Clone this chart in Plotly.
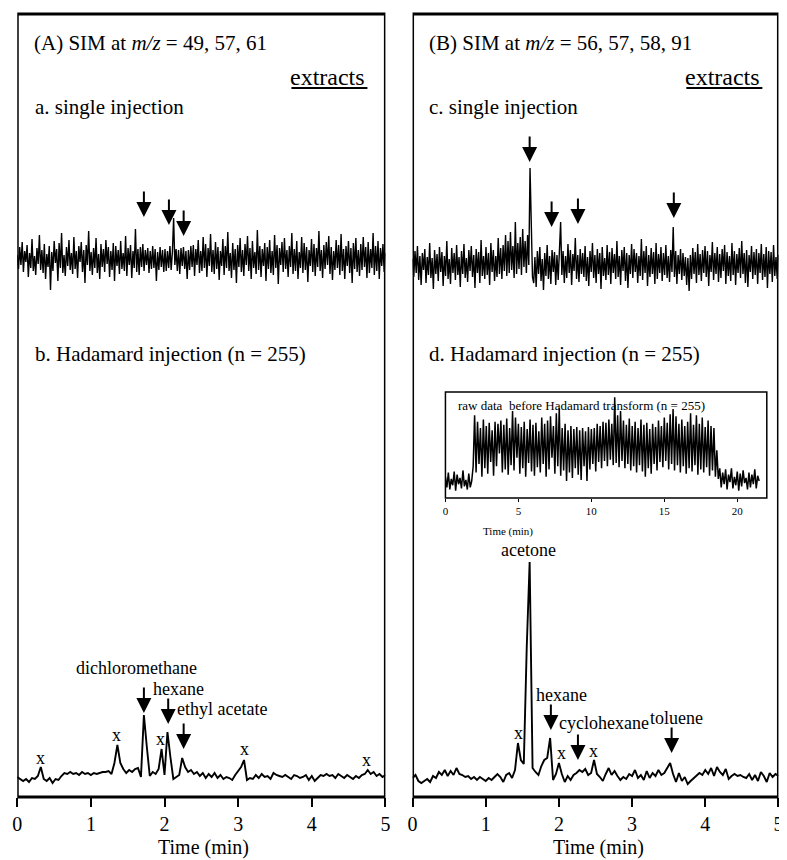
import numpy as np
import plotly.graph_objects as go

# ---------------- data ----------------
panel_titles = ["(A) SIM at <i>m/z</i> = 49, 57, 61", "(B) SIM at <i>m/z</i> = 56, 57, 58, 91"]
single_labels = ["a. single injection", "c. single injection"]
hadamard_labels = ["b. Hadamard injection (n = 255)", "d. Hadamard injection (n = 255)"]
x_ticks = [0, 1, 2, 3, 4, 5]
inset_ticks = [0, 5, 10, 15, 20]
inset_title = "raw data  before Hadamard transform (n = 255)"

single_dt = 5 / 299  # min per sample
single_a = [
    4, -10, 12, -6, 17, -13, 8, -3, 14, -18, 6, -9, 20, -12, 3, -16, 11, -5, 24, -11,
    9, -14, 15, -20, 5, -8, 13, -31, 7, -12, 18, -4, 10, -22, 16, -9, 26, -14, 4, -17,
    12, -7, 19, -11, 6, -15, 22, -10, 8, -19, 13, -3, 17, -13, 9, -24, 14, -6, 28, -12,
    7, -16, 11, -9, 21, -14, 5, -20, 15, -8, 10, -13, 19, -5, 12, -18, 8, -11, 16, -22,
    13, -7, 9, -15, 18, -10, 6, -12, 23, -17, 11, -6, 14, -19, 8, -9, 30, -13, 10, -16,
    12, -8, 15, -12, 9, -6, 11, -14, 8, -10, 13, -9, 10, -22, 7, -11, 12, -8, 9, -13,
    10, -12, 8, -9, 13, -11, 7, 41, -6, 10, -12, 9, -15, 11, -7, 12, -10, 8, -20, 9,
    -11, 13, -8, 14, -17, 10, -6, 19, -14, 8, -12, 22, -9, 15, -18, 11, -7, 25, -13, 9,
    -15, 17, -10, 12, -21, 8, -7, 20, -16, 13, -9, 27, -12, 6, -19, 16, -11, 10, -24, 14,
    -8, 21, -13, 9, -17, 15, -6, 23, -12, 11, -20, 18, -9, 7, -15, 29, -11, 13, -18, 10,
    -7, 16, -22, 12, -10, 19, -14, 8, -16, 24, -9, 14, -25, 11, -6, 17, -13, 21, -10, 9,
    -18, 13, -8, 26, -15, 10, -12, 18, -20, 7, -9, 22, -14, 16, -11, 12, -23, 9, -7, 20,
    -13, 15, -17, 11, -8, 28, -12, 9, -19, 14, -10, 17, -6, 23, -15, 12, -21, 8, -11, 19,
    -9, 14, -16, 25, -12, 10, -20, 13, -7, 18, -14, 11, -24, 16, -10, 21, -13, 9, -17, 15,
    -11, 22, -8, 12, -19, 17, -14, 10, -9, 26, -16, 13, -12, 18, -20, 11, -7, 15, -13, 6,
]
single_b = [
    6, -12, 14, -8, 19, -15, 9, -20, 12, -5, 16, -18, 8, -10, 22, -13, 7, -24, 15, -9,
    11, -16, 18, -7, 13, -21, 9, -11, 24, -14, 6, -19, 17, -8, 12, -15, 20, -10, 8, -22,
    14, -9, 21, -13, 7, -17, 15, -6, 19, -12, 10, -23, 16, -8, 13, -18, 25, -11, 9, -14,
    18, -10, 12, -20, 22, -7, 15, -16, 9, -12, 27, -9, 17, -14, 20, -6, 30, -11, 24, -8,
    33, -5, 19, -13, 43, -9, 22, -4, 28, -10, 36, -2, 24, -8, 30, 0, 97, 20, -12, -18,
    8, -22, 14, -9, 18, -16, 6, -25, 12, -11, 20, -14, 9, -19, 15, -7, 13, -20, 10, -15,
    17, 43, -10, 14, -18, 9, -13, 21, -8, 15, -20, 11, -6, 27, -14, 10, -17, 16, -9, 12,
    -12, 19, -16, 8, -21, 14, -7, 22, -13, 10, -18, 16, -9, 12, -24, 18, -11, 7, -15, 20,
    -10, 13, -19, 17, -8, 11, -14, 24, -12, 9, -20, 15, -6, 18, -16, 12, -23, 10, -9, 21,
    -13, 16, -7, 12, -18, 9, -11, 26, -15, 14, -8, 19, -21, 10, -12, 17, -9, 13, -19, 22,
    -14, 11, -8, 18, -16, 12, -10, 20, -13, 9, -17, 15, -7, 38, -12, 14, -19, 10, -9, 16,
    -15, 12, -11, 8, -20, 7, -26, 10, -14, 17, -9, 13, -18, 21, -10, 11, -16, 15, -8, 19,
    -12, 14, -21, 10, -7, 23, -15, 12, -9, 18, -17, 11, -13, 16, -6, 20, -19, 13, -11, 9,
    -16, 22, -10, 14, -20, 11, -8, 17, -13, 24, -9, 12, -18, 15, -22, 10, -7, 19, -14, 13,
    -10, 16, -19, 12, -8, 21, -15, 11, -12, 18, -23, 14, -9, 13, -17, 20, -11, 8, -14, 10,
]

hadamard_dt = 0.04  # min per sample
hadamard_a = [
    0, -2, -4, -2, -5, -1, -2, 1, 10, -2, -4, -1, -6, -2, -3, 1, 4, 3, 5, 3,
    4, 2, 5, 3, 4, 2, 4, 3, 4, 5, 5, 6, 3, 14, 32, 14, 8, 4, 7, 5,
    8, 9, 0, 62, 30, 1, 5, 3, 8, 28, 2, 45, 20, -2, 0, 2, 19, 10, 5, 7,
    3, 5, 1, 4, -1, 3, 0, 4, -1, 2, -2, 0, -1, -3, 2, 6, 10, 17, -3, -1,
    -2, 2, -1, 3, 0, 1, -2, 4, 2, 1, 0, 2, 0, -2, 2, 1, -1, 0, 2, -3,
    1, -4, -1, 2, 1, 3, 1, 2, -1, 3, 1, -1, 2, 0, -2, 1, -1, 2, 3, 7,
    3, 5, 1, 3, 0, 2,
]
hadamard_b = [
    0, 3, -3, -5, -3, -1, -4, 2, 0, 6, 3, 8, 2, 7, 3, 10, 4, 3, 1, 2,
    -1, 1, -2, 1, -1, -3, 0, -2, 1, 4, 1, -4, 3, 5, 0, 8, 35, 18, 14, 130,
    216, 10, 6, 3, 12, 18, 20, 40, -2, 4, 15, 4, -4, 2, -2, 3, 5, 8, 6, 9,
    3, 5, 18, 4, 1, -3, 4, 10, 3, 7, 2, -2, 1, -1, 4, 2, 8, 0, 3, -2,
    7, 0, 5, 2, 8, 3, 5, 10, 15, 4, -4, 5, -3, 1, -6, -3, 0, 2, 5, 3,
    8, 4, 10, 2, 11, 6, 3, 9, -1, 2, 4, 2, 3, 1, 0, 4, -2, 3, -3, 6,
    2, -4, 5, 1, 4, 2,
]

raw_dt = 0.1  # min per sample (inset)
raw_data = [
    20, 10, 24, 8, 18, 12, 25, 7, 22, 13, 19, 9, 26, 11, 17, 8, 23, 10, 16,
    30, 78, 24, 72, 32, 66, 20, 74, 28, 68, 23, 71, 34, 64, 21, 72, 30, 70, 42, 73,
    24, 69, 27, 75, 22, 66, 31, 82, 26, 76, 38, 70, 23, 67, 28, 72, 20, 65, 33, 74,
    25, 69, 21, 71, 29, 63, 24, 76, 32, 70, 20, 73, 27, 77, 38, 68, 23, 80, 30, 85,
    21, 66, 26, 70, 16, 64, 24, 68, 19, 65, 28, 67, 22, 64, 17, 66, 30, 63, 16, 67,
    27, 65, 32, 66, 25, 70, 34, 68, 28, 72, 35, 71, 30, 74, 36, 70, 31, 95, 33, 78,
    29, 82, 35, 73, 28, 69, 32, 75, 26, 68, 30, 72, 24, 66, 31, 74, 25, 69, 20, 71,
    28, 65, 23, 70, 32, 67, 26, 73, 34, 68, 29, 76, 35, 71, 27, 79, 32, 84, 26, 77,
    31, 70, 24, 74, 30, 68, 23, 72, 28, 80, 25, 69, 31, 78, 22, 70, 27, 76, 24, 67,
    29, 73, 21, 68, 26, 66, 20,
    45, 18, 28, 10, 24, 13, 27, 8, 22, 15, 28, 9, 20, 12, 25, 7, 23, 11, 26, 14,
    19, 8, 24, 10, 22, 13, 27, 9, 21, 16,
]

single_a_arrows = [1.72, 2.06, 2.26]
single_b_arrows = [1.60, 1.90, 2.26, 3.57]
compounds_a = ["dichloromethane", "hexane", "ethyl acetate"]
compounds_a_t = [1.72, 2.05, 2.26]
compounds_b = ["hexane", "cyclohexane", "toluene"]
compounds_b_t = [1.89, 2.26, 3.54]
x_marks_a = [0.32, 1.35, 1.94, 3.08, 4.74]
x_marks_b = [1.45, 2.03, 2.47]

# ---------------- layout helpers ----------------
W, H = 787, 860
OFF = 8  # page body margin that shifts the figure
FONT = "Liberation Serif"


def px(x):
    return (x - OFF) / W


def py(y):
    return 1 - (y - OFF) / H


def t_axis(n, dt):
    return np.arange(n) * dt


fig = go.Figure()
line_thin = dict(color="black", width=1.4)
line_med = dict(color="black", width=1.9)

fig.add_trace(go.Scatter(x=t_axis(len(single_a), single_dt), y=single_a, mode="lines",
                         line=line_thin, xaxis="x", yaxis="y"))
fig.add_trace(go.Scatter(x=t_axis(len(hadamard_a), hadamard_dt), y=hadamard_a, mode="lines",
                         line=line_med, xaxis="x", yaxis="y2"))
fig.add_trace(go.Scatter(x=t_axis(len(single_b), single_dt), y=single_b, mode="lines",
                         line=line_thin, xaxis="x2", yaxis="y3"))
fig.add_trace(go.Scatter(x=t_axis(len(hadamard_b), hadamard_dt), y=hadamard_b, mode="lines",
                         line=line_med, xaxis="x2", yaxis="y4"))
fig.add_trace(go.Scatter(x=t_axis(len(raw_data), raw_dt), y=raw_data, mode="lines",
                         line=dict(color="black", width=1.5), xaxis="x3", yaxis="y5"))

BOT = 797
TOP = 14
IN_TOP, IN_BOT, IN_L, IN_R = 392, 498, 446, 771.5


def main_xaxis(x0, x1):
    return dict(domain=[px(x0), px(x1)], range=[0, 5], anchor="free", position=py(BOT),
                tickvals=x_ticks, ticks="outside", ticklen=9, tickwidth=2, tickcolor="black",
                showgrid=False, zeroline=False, showline=False,
                tickfont=dict(family=FONT, size=20, color="black"))


def yax(center, lo, hi):
    return dict(domain=[py(center + lo), py(center - hi)], range=[-lo, hi], visible=False,
                anchor="free", position=0, showgrid=False, zeroline=False)


fig.update_layout(
    width=W, height=H, margin=dict(l=0, r=0, t=0, b=0),
    paper_bgcolor="white", plot_bgcolor="white", showlegend=False,
    xaxis=main_xaxis(12.3, 385.2),
    xaxis2=main_xaxis(412.7, 783.3),
    xaxis3=dict(domain=[px(IN_L), px(IN_L + 22 * 14.78)], range=[0, 22], anchor="free",
                position=py(IN_BOT), tickvals=inset_ticks, ticks="outside", ticklen=3,
                tickwidth=1, tickcolor="black", showgrid=False, zeroline=False,
                showline=False, tickfont=dict(family=FONT, size=11, color="black")),
    yaxis=yax(259, 50, 50),
    yaxis2=yax(777, 20, 100),
    yaxis3=yax(265, 50, 110),
    yaxis4=yax(778, 20, 230),
    yaxis5=dict(domain=[py(IN_BOT), py(IN_TOP)], range=[0, 100], visible=False, anchor="free",
                position=0, showgrid=False, zeroline=False),
)

shapes = []
for xr in ["x", "x2"]:
    shapes.append(dict(type="rect", xref=xr, yref="paper", x0=0, x1=5, y0=py(BOT), y1=py(TOP),
                       line=dict(color="black", width=3)))
shapes.append(dict(type="rect", xref="paper", yref="paper", x0=px(IN_L), x1=px(IN_R),
                   y0=py(IN_BOT), y1=py(IN_TOP), line=dict(color="black", width=1.5)))
for xa, xb in [(290, 367), (690, 767)]:
    shapes.append(dict(type="line", xref="paper", yref="paper", x0=px(xa), x1=px(xb),
                       y0=py(88), y1=py(88), line=dict(color="black", width=2)))
fig.update_layout(shapes=shapes)

ann = []


def text(x, y, s, size=20, xanchor="left", xref="paper"):
    ann.append(dict(x=x if xref != "paper" else px(x), y=py(y), xref=xref, yref="paper",
                    text=s, showarrow=False, xanchor=xanchor, yanchor="middle",
                    font=dict(family=FONT, size=size, color="black")))


def arrow(t, tip, xref, length=27):
    ann.append(dict(x=t, y=py(tip), xref=xref, yref="paper", text="", showarrow=True,
                    ax=0, ay=-length, arrowhead=2, arrowsize=1.5, arrowwidth=2,
                    arrowcolor="black", standoff=0))


text(27, 43, panel_titles[0], size=21)
text(427, 43, panel_titles[1], size=21)
text(367, 77, "extracts", size=24, xanchor="right")
text(767, 77, "extracts", size=24, xanchor="right")
text(28, 107, single_labels[0], size=21)
text(427, 107, single_labels[1], size=21)
text(28, 354, hadamard_labels[0], size=21)
text(427, 354, hadamard_labels[1], size=21)
text(201, 847, "Time (min)", xanchor="center")
text(601, 847, "Time (min)", xanchor="center")
text(457, 405, inset_title, size=13)
text(509, 531, "Time (min)", size=11, xanchor="center")

for t, tip in zip(single_a_arrows, [217, 225, 236]):
    arrow(t, tip, "x")
for t, tip in zip(single_b_arrows, [162, 227, 224, 218]):
    arrow(t, tip, "x2")
for t, tip in zip(compounds_a_t, [713, 724, 749]):
    arrow(t, tip, "x")
for t, tip in zip(compounds_b_t, [730, 760, 753]):
    arrow(t, tip, "x2")
for name, t, y in zip(compounds_a, [1.62, 2.19, 2.78], [668, 689, 709]):
    text(t, y, name, size=18, xanchor="center", xref="x")
text(1.58, 550, "acetone", size=18, xanchor="center", xref="x2")
for name, t, y in zip(compounds_b, [2.03, 2.62, 3.61], [695, 723, 718]):
    text(t, y, name, size=18, xanchor="center", xref="x2")
for t, y in zip(x_marks_a, [758, 735, 739, 749, 760]):
    text(t, y, "x", size=18, xanchor="center", xref="x")
for t, y in zip(x_marks_b, [733, 753, 751]):
    text(t, y, "x", size=18, xanchor="center", xref="x2")

fig.update_layout(annotations=ann)
fig.write_html("out.html")
